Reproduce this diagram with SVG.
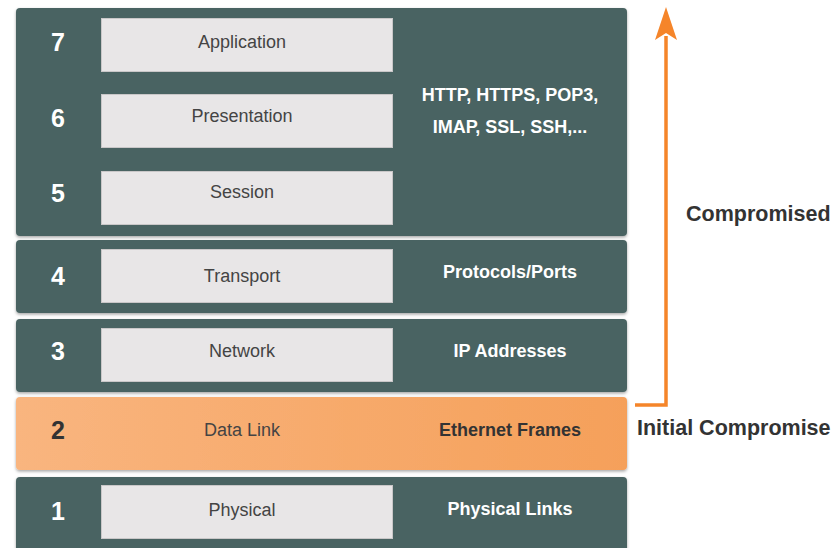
<svg xmlns="http://www.w3.org/2000/svg" width="837" height="548" viewBox="0 0 837 548">
<style>
.panel{fill:#4A6462;filter:url(#sh)}
.box{fill:#E8E6E7;stroke:#C9C7C8;stroke-width:1}
.num{font-family:"Liberation Sans",Arial,sans-serif;font-weight:bold;font-size:25px;fill:#FFFFFF;text-anchor:middle}
.lbl{font-family:"Liberation Sans",Arial,sans-serif;font-size:18px;fill:#444444;text-anchor:middle}
.proto{font-family:"Liberation Sans",Arial,sans-serif;font-weight:bold;font-size:18px;fill:#FFFFFF;text-anchor:middle}
.side{font-family:"Liberation Sans",Arial,sans-serif;font-weight:bold;font-size:21.5px;fill:#333333}
</style>
<defs>
<filter id="sh" x="-5%" y="-10%" width="110%" height="125%">
<feDropShadow dx="0" dy="1.5" stdDeviation="1.5" flood-color="#000" flood-opacity="0.35"/>
</filter>
<linearGradient id="og" x1="0" y1="0" x2="1" y2="0">
<stop offset="0" stop-color="#F9B57F"/>
<stop offset="1" stop-color="#F5A05A"/>
</linearGradient>
</defs>
<rect width="837" height="548" fill="#FFFFFF"/>

<g id="layers567">
<rect class="panel" x="16" y="8" width="611" height="228" rx="4"/>
<rect class="box" x="101.5" y="18.5" width="291" height="53"/>
<rect class="box" x="101.5" y="94.5" width="291" height="53"/>
<rect class="box" x="101.5" y="171.5" width="291" height="53"/>
<text class="num" x="58" y="51">7</text>
<text class="num" x="58" y="127">6</text>
<text class="num" x="58" y="202">5</text>
<text class="lbl" x="242" y="48">Application</text>
<text class="lbl" x="242" y="122">Presentation</text>
<text class="lbl" x="242" y="198">Session</text>
<text class="proto" x="510" y="101">HTTP, HTTPS, POP3,</text>
<text class="proto" x="510" y="133">IMAP, SSL, SSH,...</text>
</g>

<g id="layer4">
<rect class="panel" x="16" y="240" width="611" height="73" rx="4"/>
<rect class="box" x="101.5" y="249.5" width="291" height="53"/>
<text class="num" x="58" y="285">4</text>
<text class="lbl" x="242" y="282">Transport</text>
<text class="proto" x="510" y="278">Protocols/Ports</text>
</g>

<g id="layer3">
<rect class="panel" x="16" y="319" width="611" height="73" rx="4"/>
<rect class="box" x="101.5" y="328.5" width="291" height="53"/>
<text class="num" x="58" y="360">3</text>
<text class="lbl" x="242" y="357">Network</text>
<text class="proto" x="510" y="357">IP Addresses</text>
</g>

<g id="layer2">
<rect x="16" y="397" width="611" height="73" rx="4" fill="url(#og)" filter="url(#sh)"/>
<text class="num" x="58" y="439" style="fill:#333333">2</text>
<text class="lbl" x="242" y="436">Data Link</text>
<text class="proto" x="510" y="436" style="fill:#333333">Ethernet Frames</text>
</g>

<g id="layer1">
<rect class="panel" x="16" y="477" width="611" height="80" rx="4"/>
<rect class="box" x="101.5" y="485.5" width="291" height="53"/>
<text class="num" x="58" y="520">1</text>
<text class="lbl" x="242" y="516">Physical</text>
<text class="proto" x="510" y="515">Physical Links</text>
</g>

<g id="connectors">
<path d="M635 405 H666 V36" fill="none" stroke="#F5852A" stroke-width="3.5"/>
<polygon points="666,7 677,40 666,33 655,40" fill="#F5852A"/>
</g>

<g id="labels">
<text class="side" x="686" y="221">Compromised</text>
<text class="side" x="637" y="435">Initial Compromise</text>
</g>
</svg>
